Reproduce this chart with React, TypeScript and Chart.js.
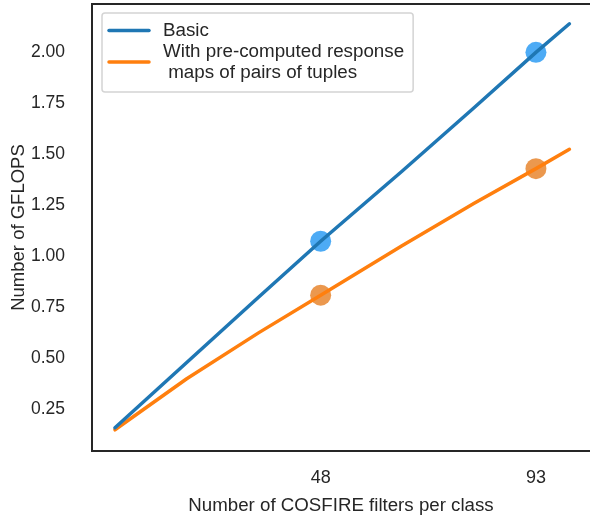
import React, { useEffect, useRef } from "react";
import { Chart, registerables } from "chart.js";

Chart.register(...registerables);

const xValues = [5, 20, 35, 48, 65, 80, 93, 100];
const basicValues = [0.16, 0.48, 0.8, 1.074, 1.417, 1.727, 2.0, 2.14];
const precomputedValues = [0.15, 0.4, 0.625, 0.81, 1.052, 1.259, 1.43, 1.525];
const markerX = [48, 93];
const basicMarkers = [1.074, 2.0];
const precomputedMarkers = [0.81, 1.43];
const seriesLabels = ["Basic", "With pre-computed response\n maps of pairs of tuples"];
const xTicks = [48, 93];
const yTicks = [0.25, 0.5, 0.75, 1.0, 1.25, 1.5, 1.75, 2.0];
const xTitle = "Number of COSFIRE filters per class";
const yTitle = "Number of GFLOPS";

const FONT = "'Liberation Sans', Arial, sans-serif";
const TEXT = "#262626";
const SPINE = "#262626";
const LINE_COLORS = ["#1f77b4", "#ff7f0e"];
const MARKER_COLORS = ["#4dabf5", "#eb984e"];

const framePlugin = {
  id: "frame",
  afterDraw(chart: any) {
    const { ctx, chartArea } = chart;
    const { left, top, bottom } = chartArea;
    ctx.save();
    ctx.strokeStyle = SPINE;
    ctx.lineWidth = 2;
    ctx.beginPath();
    ctx.moveTo(chart.width + 2, top);
    ctx.lineTo(left, top);
    ctx.lineTo(left, bottom);
    ctx.lineTo(chart.width + 2, bottom);
    ctx.stroke();
    ctx.restore();
  },
};

const legendPlugin = {
  id: "boxLegend",
  afterDraw(chart: any) {
    const { ctx, chartArea } = chart;
    const bx = chartArea.left + 10;
    const by = chartArea.top + 9;
    const lineH = 21;
    ctx.save();
    ctx.font = `18.8px ${FONT}`;
    const items = chart.data.datasets.filter((d: any) => d.showInLegend);
    let maxW = 0;
    const blocks = items.map((d: any) => {
      const lines = String(d.label).split("\n");
      lines.forEach((l: string) => (maxW = Math.max(maxW, ctx.measureText(l).width)));
      return lines;
    });
    const textX = bx + 61;
    const bw = 61 + maxW + 9;
    let total = 0;
    blocks.forEach((b: string[]) => (total += b.length * lineH));
    const bh = total + 16;
    const r = 3;
    ctx.beginPath();
    ctx.moveTo(bx + r, by);
    ctx.lineTo(bx + bw - r, by);
    ctx.quadraticCurveTo(bx + bw, by, bx + bw, by + r);
    ctx.lineTo(bx + bw, by + bh - r);
    ctx.quadraticCurveTo(bx + bw, by + bh, bx + bw - r, by + bh);
    ctx.lineTo(bx + r, by + bh);
    ctx.quadraticCurveTo(bx, by + bh, bx, by + bh - r);
    ctx.lineTo(bx, by + r);
    ctx.quadraticCurveTo(bx, by, bx + r, by);
    ctx.closePath();
    ctx.fillStyle = "rgba(255,255,255,0.8)";
    ctx.fill();
    ctx.strokeStyle = "#d4d4d4";
    ctx.lineWidth = 1.5;
    ctx.stroke();
    let cy = by + 7;
    ctx.textBaseline = "middle";
    ctx.textAlign = "left";
    blocks.forEach((lines: string[], i: number) => {
      const h = lines.length * lineH;
      const mid = cy + h / 2;
      ctx.strokeStyle = items[i].borderColor;
      ctx.lineWidth = 3.5;
      ctx.lineCap = "round";
      ctx.beginPath();
      ctx.moveTo(bx + 7, mid);
      ctx.lineTo(bx + 47, mid);
      ctx.stroke();
      ctx.fillStyle = TEXT;
      lines.forEach((l: string, j: number) => {
        ctx.fillText(l, textX, cy + lineH * j + lineH / 2);
      });
      cy += h;
    });
    ctx.restore();
  },
};

const zeroPad = (s: any) => {
  s.paddingTop = 0;
  s.paddingBottom = 0;
  s.paddingLeft = 0;
  s.paddingRight = 0;
};

export default function App() {
  const ref = useRef<HTMLCanvasElement | null>(null);
  useEffect(() => {
    if (!ref.current) return;
    const line = (vals: number[], i: number) => ({
      type: "line",
      label: seriesLabels[i],
      showInLegend: true,
      data: xValues.map((x, k) => ({ x, y: vals[k] })),
      borderColor: LINE_COLORS[i],
      backgroundColor: LINE_COLORS[i],
      borderWidth: 3.5,
      pointRadius: 0,
      tension: 0,
      borderCapStyle: "round",
      borderJoinStyle: "round",
    });
    const marks = (vals: number[], i: number) => ({
      type: "scatter",
      label: seriesLabels[i] + " markers",
      showInLegend: false,
      data: markerX.map((x, k) => ({ x, y: vals[k] })),
      backgroundColor: MARKER_COLORS[i],
      borderWidth: 0,
      pointRadius: 10.5,
      pointHoverRadius: 10.5,
    });
    const chart = new Chart(ref.current, {
      type: "line",
      data: {
        datasets: [
          line(basicValues, 0),
          line(precomputedValues, 1),
          marks(basicMarkers, 0),
          marks(precomputedMarkers, 1),
        ] as any,
      },
      options: {
        animation: false,
        responsive: false,
        maintainAspectRatio: false,
        layout: { autoPadding: false, padding: { top: 4, left: 0, right: 0, bottom: 0 } },
        plugins: { legend: { display: false }, tooltip: { enabled: false } },
        scales: {
          x: {
            type: "linear",
            min: 0.2,
            max: 104.3,
            grid: { display: false },
            border: { display: false },
            afterBuildTicks: (s: any) => {
              s.ticks = xTicks.map((v) => ({ value: v }));
            },
            afterFit: (s: any) => {
              s.height = 67;
              zeroPad(s);
            },
            ticks: {
              padding: 8,
              color: TEXT,
              font: { family: FONT, size: 18 },
              callback: (v: any) => String(v),
            },
            title: {
              display: true,
              text: xTitle,
              color: TEXT,
              font: { family: FONT, size: 18.7 },
              padding: { top: 0, bottom: 1 },
            },
          },
          y: {
            type: "linear",
            min: 0.046,
            max: 2.237,
            grid: { display: false },
            border: { display: false },
            afterBuildTicks: (s: any) => {
              s.ticks = yTicks.map((v) => ({ value: v }));
            },
            afterFit: (s: any) => {
              s.width = 92;
              zeroPad(s);
            },
            ticks: {
              padding: 19,
              color: TEXT,
              font: { family: FONT, size: 17.5 },
              callback: (v: any) => Number(v).toFixed(2),
            },
            title: {
              display: true,
              text: yTitle,
              color: TEXT,
              font: { family: FONT, size: 18.5 },
              padding: { top: 8, bottom: 0 },
            },
          },
        },
      } as any,
      plugins: [framePlugin, legendPlugin],
    });
    return () => chart.destroy();
  }, []);
  return (
    <div style={{ position: "absolute", left: 0, top: 0, width: 590, height: 518, background: "#fff" }}>
      <canvas ref={ref} width={590} height={518} style={{ width: 590, height: 518, display: "block" }} />
    </div>
  );
}
